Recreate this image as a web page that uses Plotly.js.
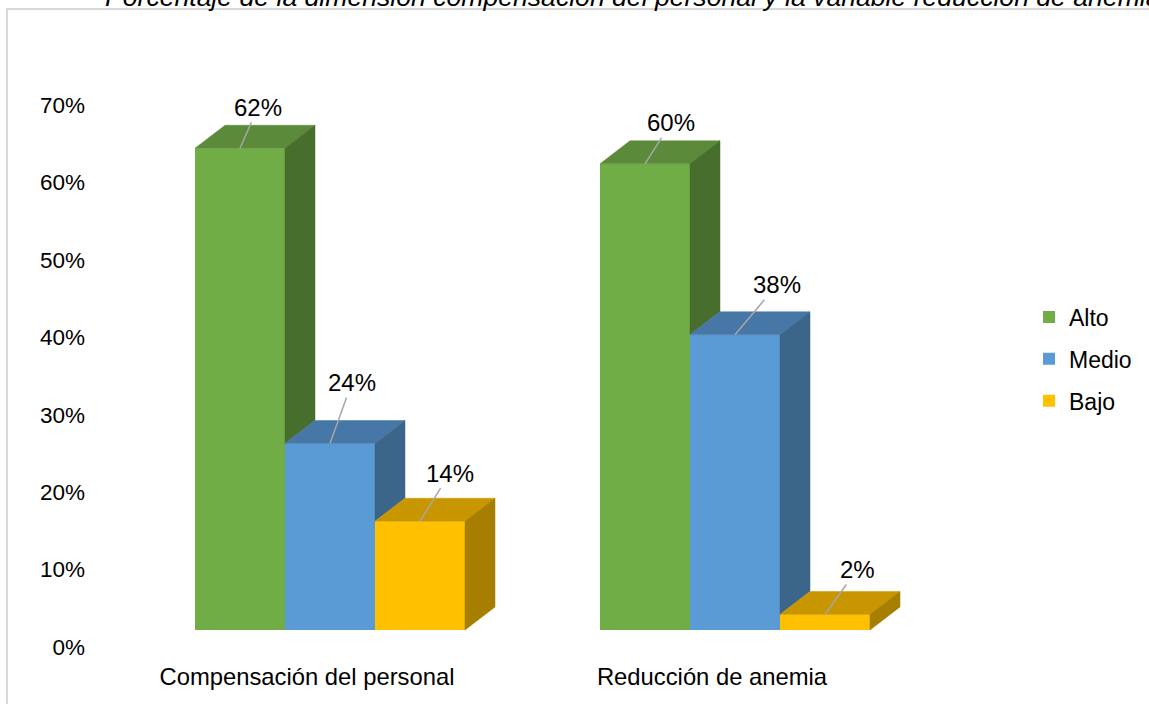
<!DOCTYPE html>
<html>
<head>
<meta charset="utf-8">
<script src="https://cdn.plot.ly/plotly-3.0.1.min.js"></script>
<style>
html,body{margin:0;padding:0;background:#ffffff;}
#chart{width:1149px;height:704px;}
</style>
</head>
<body>
<div id="chart"></div>
<script>
// ---------- data ----------
const chartTitle = 'Porcentaje de la dimensión compensación del personal y la variable reducción de anemia';
const categories = ['Compensación del personal', 'Reducción de anemia'];
const seriesNames = ['Alto', 'Medio', 'Bajo'];
const alto  = [0.62, 0.60];
const medio = [0.24, 0.38];
const bajo  = [0.14, 0.02];
const yTickVals = [0, 0.1, 0.2, 0.3, 0.4, 0.5, 0.6, 0.7];

// ---------- styling / geometry config ----------
const seriesValues = [alto, medio, bajo];
const frontColors = ['#70AD47', '#5B9BD5', '#FFC000'];
const topColors   = ['#5B8A3A', '#4777A6', '#C79600'];
const sideColors  = ['#476E2C', '#3B6689', '#A67F00'];
// pixel offsets of the data labels from their leader-line tip
const labelDx = [[18, 26], [22, 42], [30, 32]];
const labelDy = [[-41, -41], [-61, -50], [-48, -45]];

const W = 1149, H = 704;
const M = {l: 95, r: 149, t: 105, b: 57};
const plotW = W - M.l - M.r;
const plotH = H - M.t - M.b;

// bar x-axis: category centre position
const xUnit = 405, x0px = 330;
const xRange = [(M.l - x0px) / xUnit, (M.l + plotW - x0px) / xUnit];
const labelShift = 23 / xUnit;
// bar y-axis (front plane)
const yUnit = 777, yBasePx = 630;
const y2Range = [-(H - M.b - yBasePx) / yUnit, (yBasePx - M.t) / yUnit];
const depthX = 30 / xUnit, depthY = 23 / yUnit;
const barGap = 1 / 3;
const barW = (1 - barGap) / seriesNames.length;

const font = 'Liberation Sans, Arial, Helvetica, sans-serif';

// ---------- traces ----------
const traces = [];
// dummy trace anchoring the main x/y axes
traces.push({type: 'scatter', x: [null], y: [null], xaxis: 'x', yaxis: 'y',
  showlegend: false, hoverinfo: 'skip', mode: 'markers'});

seriesNames.forEach((name, s) => {
  const vals = seriesValues[s];
  traces.push({
    type: 'bar', name: name, x: categories.map((c, i) => i), y: vals,
    xaxis: 'x', yaxis: 'y2', legendgroup: name,
    marker: {color: frontColors[s], line: {width: 0}},
    hoverinfo: 'skip'
  });
  const tx = [], ty = [], sx = [], sy = [];
  vals.forEach((v, c) => {
    const xl = c + (s - 1) * barW - barW / 2;
    const xr = xl + barW;
    tx.push(xl, xr, xr + depthX, xl + depthX, xl, null);
    ty.push(v, v, v + depthY, v + depthY, v, null);
    const next = s + 1 < seriesValues.length ? seriesValues[s + 1][c] : 0;
    const low = Math.min(v, next);
    sx.push(xr, xr + depthX, xr + depthX, xr, xr, null);
    sy.push(v, v + depthY, low + depthY, low, v, null);
  });
  traces.push({type: 'scatter', x: tx, y: ty, xaxis: 'x', yaxis: 'y2',
    mode: 'lines', fill: 'toself', fillcolor: topColors[s],
    line: {color: topColors[s], width: 0.5}, showlegend: false,
    legendgroup: name, hoverinfo: 'skip'});
  traces.push({type: 'scatter', x: sx, y: sy, xaxis: 'x', yaxis: 'y2',
    mode: 'lines', fill: 'toself', fillcolor: sideColors[s],
    line: {color: sideColors[s], width: 0.5}, showlegend: false,
    legendgroup: name, hoverinfo: 'skip'});
});

// ---------- annotations (data labels) ----------
const annotations = [];
seriesNames.forEach((name, s) => {
  seriesValues[s].forEach((v, c) => {
    annotations.push({
      x: c + (s - 1) * barW, y: v, xref: 'x', yref: 'y2',
      text: Math.round(v * 100) + '%',
      showarrow: true, arrowhead: 0, arrowwidth: 1.5, arrowcolor: '#A6A6A6',
      ax: labelDx[s][c], ay: labelDy[s][c], standoff: 0,
      font: {family: font, size: 24, color: '#000000'}
    });
  });
});

const pxX = px => (px - M.l) / plotW;
const pxY = py => (H - M.b - py) / plotH;

const layout = {
  width: W, height: H,
  margin: {l: M.l, r: M.r, t: M.t, b: M.b, pad: 0, autoexpand: false},
  paper_bgcolor: '#ffffff', plot_bgcolor: 'rgba(0,0,0,0)',
  font: {family: font, size: 22, color: '#000000'},
  barmode: 'group', bargap: barGap, bargroupgap: 0,
  showlegend: true,
  title: {
    text: chartTitle,
    font: {family: font, size: 26.6, style: 'italic', color: '#000000'},
    xref: 'container', yref: 'container',
    x: 105 / W, xanchor: 'left', y: 1 - 5.5 / H, yanchor: 'bottom'
  },
  xaxis: {
    range: xRange, tickmode: 'array',
    tickvals: categories.map((c, i) => i - labelShift), ticktext: categories,
    showgrid: false, zeroline: false, showline: false, ticks: '',
    ticklabelstandoff: 13, tickfont: {family: font, size: 23.8, color: '#000000'},
    fixedrange: true
  },
  yaxis: {
    range: [0, 0.7], tickmode: 'array', tickvals: yTickVals, tickformat: '.0%',
    showgrid: false, zeroline: false, showline: false, ticks: '',
    ticklabelstandoff: 9, tickfont: {family: font, size: 22.5, color: '#000000'},
    fixedrange: true
  },
  yaxis2: {overlaying: 'y', range: y2Range, visible: false, fixedrange: true},
  legend: {
    x: pxX(1029), xanchor: 'left', y: pxY(359), yanchor: 'middle',
    font: {family: font, size: 23, color: '#000000'},
    tracegroupgap: 9, bgcolor: 'rgba(0,0,0,0)'
  },
  shapes: [{
    type: 'rect', xref: 'paper', yref: 'paper', layer: 'below',
    x0: pxX(7), x1: pxX(1180), y0: pxY(730), y1: pxY(9),
    line: {color: '#D9D9D9', width: 2}, fillcolor: 'rgba(0,0,0,0)'
  }],
  annotations: annotations
};

Plotly.newPlot('chart', traces, layout, {displayModeBar: false, staticPlot: true});
</script>
</body>
</html>
